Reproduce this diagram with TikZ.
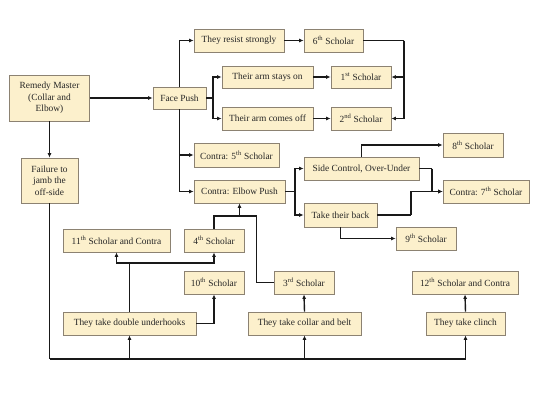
\documentclass[tikz,border=0pt]{standalone}
\usepackage{fontspec}
\setmainfont{Liberation Serif}
\usetikzlibrary{arrows.meta}
\definecolor{boxfill}{HTML}{FCF0CC}
\definecolor{boxline}{HTML}{8C8272}
\tikzset{
  box/.style={draw=boxline, line width=0.8pt, fill=boxfill, inner sep=1pt, align=center,
    font=\fontsize{9.4}{11.5}\selectfont, text=black!85},
  conn/.style={line width=1.4pt, black!90},
  arr/.style={conn, -{Latex[length=4.5pt,width=4pt]}},
}
\newcommand{\bx}[6]{\node[box, minimum width=#4pt, minimum height=#5pt] (#1) at (#2,#3) {#6};}
\begin{document}
\begin{tikzpicture}[x=1pt,y=-1pt]
\useasboundingbox (0,0) rectangle (540,405);
% nodes
\bx{rm}{49.5}{98}{80}{46}{Remedy Master\\(Collar and\\Elbow)}
\bx{fail}{49.5}{180.5}{57}{45}{Failure to\\jamb the\\off-side}
\bx{fp}{179.5}{98}{53}{22}{Face Push}
\bx{resist}{239}{40.5}{90}{23}{They resist strongly}
\bx{s6}{333.5}{40.5}{59}{23}{6\textsuperscript{th} Scholar}
\bx{stays}{267.5}{77}{91}{22}{Their arm stays on}
\bx{s1}{361}{77}{60}{22}{1\textsuperscript{st} Scholar}
\bx{off}{267.5}{118.5}{91}{23}{Their arm comes off}
\bx{s2}{361}{118.5}{60}{23}{2\textsuperscript{nd} Scholar}
\bx{c5}{236.5}{155}{85}{24}{Contra: 5\textsuperscript{th} Scholar}
\bx{ep}{239.5}{191.5}{91}{23}{Contra: Elbow Push}
\bx{sc}{361.5}{168.5}{115}{23}{Side Control, Over-Under}
\bx{s8}{473}{145}{60}{24}{8\textsuperscript{th} Scholar}
\bx{c7}{486}{191.5}{86}{23}{Contra: 7\textsuperscript{th} Scholar}
\bx{back}{340.5}{215}{73}{24}{Take their back}
\bx{s9}{426}{238.5}{60}{23}{9\textsuperscript{th} Scholar}
\bx{s11}{116.5}{240.5}{107}{23}{11\textsuperscript{th} Scholar and Contra}
\bx{s4}{214}{240.5}{60}{23}{4\textsuperscript{th} Scholar}
\bx{s10}{214}{282.5}{60}{23}{10\textsuperscript{th} Scholar}
\bx{s3}{304}{282.5}{60}{23}{3\textsuperscript{rd} Scholar}
\bx{s12}{465}{282.5}{106}{23}{12\textsuperscript{th} Scholar and Contra}
\bx{dbl}{129.5}{323.5}{133}{23}{They take double underhooks}
\bx{cb}{304.5}{323.5}{113}{23}{They take collar and belt}
\bx{cl}{465.5}{323.5}{79}{23}{They take clinch}
% connectors
\draw[arr] (rm.east) -- (fp.west);
\draw[arr] (rm.south) -- (fail.north);
\draw[arr] (fp.north) |- (resist.west);
\draw[arr] (fp.south) |- (c5.west);
\draw[arr] (fp.south) |- (ep.west);
\coordinate (f1) at (213,98);
\draw[conn] (fp.east) -- (f1);
\draw[arr] (f1) |- (stays.west);
\draw[arr] (f1) |- (off.west);
\draw[arr] (resist.east) -- (s6.west);
\draw[arr] (stays.east) -- (s1.west);
\draw[arr] (off.east) -- (s2.west);
\coordinate (br) at (404,40.5);
\draw[conn] (s6.east) -- (br);
\draw[arr] (br) |- (s1.east);
\draw[arr] (br) |- (s2.east);
\coordinate (f2) at (295,191.5);
\draw[conn] (ep.east) -- (f2);
\draw[arr] (f2) |- (sc.west);
\draw[arr] (f2) |- (back.west);
\draw[arr] (sc.north) |- (s8.west);
\coordinate (k1) at (432,168.5);
\coordinate (k2) at (411,215);
\draw[conn] (sc.east) -- (k1);
\draw[arr] (k1) |- (c7.west);
\draw[conn] (back.east) -- (k2);
\draw[arr] (k2) |- (c7.west);
\draw[arr] (back.south) |- (s9.west);
\coordinate (d1) at (129.5,263);
\draw[conn] (dbl.north) -- (d1);
\draw[arr] (d1) -| (s11.south);
\draw[arr] (d1) -| (s4.south);
\draw[arr] (dbl.east) -| (s10.south);
\coordinate (j) at (239.5,216);
\draw[conn] (s4.north) |- (j);
\draw[conn] (s3.west) -- ++(-17,0) |- (j);
\draw[arr] (j) -- (ep.south);
\draw[arr] (cb.north) -- (s3.south);
\draw[arr] (cl.north) -- (s12.south);
\coordinate (b0) at (49.5,359);
\draw[conn] (fail.south) -- (b0);
\draw[conn, line width=2.2pt] (b0) -- (cl.south |- b0);
\draw[arr] (dbl.south |- b0) -- (dbl.south);
\draw[arr] (cb.south |- b0) -- (cb.south);
\draw[arr] (cl.south |- b0) -- (cl.south);
\end{tikzpicture}
\end{document}
